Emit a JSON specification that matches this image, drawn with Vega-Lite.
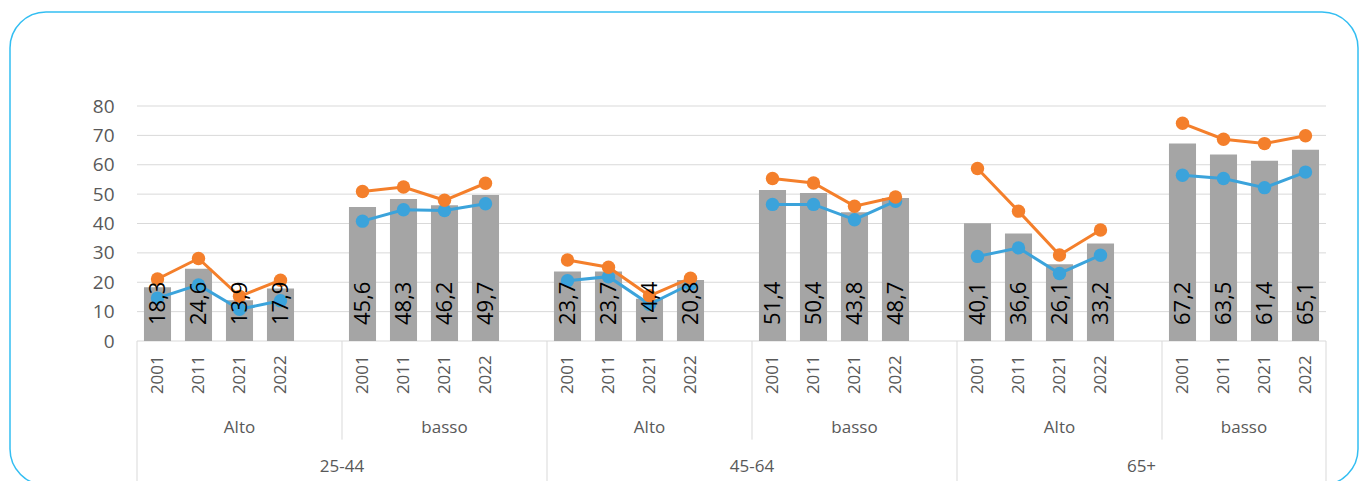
{
  "$schema": "https://vega.github.io/schema/vega-lite/v6.json",
  "autosize": {"type": "none"},
  "width": 1348,
  "height": 473,
  "padding": {"left": 10, "top": 12, "right": 2, "bottom": 0},
  "background": "white",
  "config": {"view": {"stroke": "#33BEF2", "strokeWidth": 1.5, "cornerRadius": 36}, "font": "Open Sans"},
  "datasets": {
    "main": [
      {"age": "25-44", "sub": "Alto", "grp": "25-44|Alto", "year": "2001", "slot": "25-44|Alto|2001", "bar": 18.3, "orange": 21.1, "blue": 14.6, "lab": "18,3"},
      {"age": "25-44", "sub": "Alto", "grp": "25-44|Alto", "year": "2011", "slot": "25-44|Alto|2011", "bar": 24.6, "orange": 28.1, "blue": 19.1, "lab": "24,6"},
      {"age": "25-44", "sub": "Alto", "grp": "25-44|Alto", "year": "2021", "slot": "25-44|Alto|2021", "bar": 13.9, "orange": 15.2, "blue": 10.8, "lab": "13,9"},
      {"age": "25-44", "sub": "Alto", "grp": "25-44|Alto", "year": "2022", "slot": "25-44|Alto|2022", "bar": 17.9, "orange": 20.7, "blue": 13.7, "lab": "17,9"},
      {"age": "25-44", "sub": "basso", "grp": "25-44|basso", "year": "2001", "slot": "25-44|basso|2001", "bar": 45.6, "orange": 50.9, "blue": 40.8, "lab": "45,6"},
      {"age": "25-44", "sub": "basso", "grp": "25-44|basso", "year": "2011", "slot": "25-44|basso|2011", "bar": 48.3, "orange": 52.4, "blue": 44.7, "lab": "48,3"},
      {"age": "25-44", "sub": "basso", "grp": "25-44|basso", "year": "2021", "slot": "25-44|basso|2021", "bar": 46.2, "orange": 47.9, "blue": 44.4, "lab": "46,2"},
      {"age": "25-44", "sub": "basso", "grp": "25-44|basso", "year": "2022", "slot": "25-44|basso|2022", "bar": 49.7, "orange": 53.7, "blue": 46.7, "lab": "49,7"},
      {"age": "45-64", "sub": "Alto", "grp": "45-64|Alto", "year": "2001", "slot": "45-64|Alto|2001", "bar": 23.7, "orange": 27.6, "blue": 20.5, "lab": "23,7"},
      {"age": "45-64", "sub": "Alto", "grp": "45-64|Alto", "year": "2011", "slot": "45-64|Alto|2011", "bar": 23.7, "orange": 25.1, "blue": 21.9, "lab": "23,7"},
      {"age": "45-64", "sub": "Alto", "grp": "45-64|Alto", "year": "2021", "slot": "45-64|Alto|2021", "bar": 14.4, "orange": 15.4, "blue": 12.5, "lab": "14,4"},
      {"age": "45-64", "sub": "Alto", "grp": "45-64|Alto", "year": "2022", "slot": "45-64|Alto|2022", "bar": 20.8, "orange": 21.4, "blue": 19.4, "lab": "20,8"},
      {"age": "45-64", "sub": "basso", "grp": "45-64|basso", "year": "2001", "slot": "45-64|basso|2001", "bar": 51.4, "orange": 55.3, "blue": 46.5, "lab": "51,4"},
      {"age": "45-64", "sub": "basso", "grp": "45-64|basso", "year": "2011", "slot": "45-64|basso|2011", "bar": 50.4, "orange": 53.8, "blue": 46.5, "lab": "50,4"},
      {"age": "45-64", "sub": "basso", "grp": "45-64|basso", "year": "2021", "slot": "45-64|basso|2021", "bar": 43.8, "orange": 45.9, "blue": 41.3, "lab": "43,8"},
      {"age": "45-64", "sub": "basso", "grp": "45-64|basso", "year": "2022", "slot": "45-64|basso|2022", "bar": 48.7, "orange": 49.0, "blue": 47.6, "lab": "48,7"},
      {"age": "65+", "sub": "Alto", "grp": "65+|Alto", "year": "2001", "slot": "65+|Alto|2001", "bar": 40.1, "orange": 58.7, "blue": 28.8, "lab": "40,1"},
      {"age": "65+", "sub": "Alto", "grp": "65+|Alto", "year": "2011", "slot": "65+|Alto|2011", "bar": 36.6, "orange": 44.2, "blue": 31.7, "lab": "36,6"},
      {"age": "65+", "sub": "Alto", "grp": "65+|Alto", "year": "2021", "slot": "65+|Alto|2021", "bar": 26.1, "orange": 29.3, "blue": 23.0, "lab": "26,1"},
      {"age": "65+", "sub": "Alto", "grp": "65+|Alto", "year": "2022", "slot": "65+|Alto|2022", "bar": 33.2, "orange": 37.8, "blue": 29.2, "lab": "33,2"},
      {"age": "65+", "sub": "basso", "grp": "65+|basso", "year": "2001", "slot": "65+|basso|2001", "bar": 67.2, "orange": 74.1, "blue": 56.4, "lab": "67,2"},
      {"age": "65+", "sub": "basso", "grp": "65+|basso", "year": "2011", "slot": "65+|basso|2011", "bar": 63.5, "orange": 68.7, "blue": 55.3, "lab": "63,5"},
      {"age": "65+", "sub": "basso", "grp": "65+|basso", "year": "2021", "slot": "65+|basso|2021", "bar": 61.4, "orange": 67.2, "blue": 52.2, "lab": "61,4"},
      {"age": "65+", "sub": "basso", "grp": "65+|basso", "year": "2022", "slot": "65+|basso|2022", "bar": 65.1, "orange": 69.9, "blue": 57.5, "lab": "65,1"}
    ],
    "grid": [{"v": 0}, {"v": 10}, {"v": 20}, {"v": 30}, {"v": 40}, {"v": 50}, {"v": 60}, {"v": 70}, {"v": 80}],
    "labels": [
      {"slot": "25-44|Alto|2021", "text": "Alto", "level": "sub", "pos": "mid"},
      {"slot": "25-44|basso|2021", "text": "basso", "level": "sub", "pos": "mid"},
      {"slot": "45-64|Alto|2021", "text": "Alto", "level": "sub", "pos": "mid"},
      {"slot": "45-64|basso|2021", "text": "basso", "level": "sub", "pos": "mid"},
      {"slot": "65+|Alto|2021", "text": "Alto", "level": "sub", "pos": "mid"},
      {"slot": "65+|basso|2011", "text": "basso", "level": "sub", "pos": "end"},
      {"slot": "b1", "text": "25-44", "level": "age", "pos": "end"},
      {"slot": "b3", "text": "45-64", "level": "age", "pos": "end"},
      {"slot": "b5", "text": "65+", "level": "age", "pos": "mid"}
    ],
    "seps": [
      {"slot": "25-44|Alto|2001", "kind": "age", "pos": "start"},
      {"slot": "45-64|Alto|2001", "kind": "age", "pos": "start"},
      {"slot": "65+|Alto|2001", "kind": "age", "pos": "start"},
      {"slot": "65+|basso|2022", "kind": "age", "pos": "end"},
      {"slot": "25-44|basso|2001", "kind": "sub", "pos": "start"},
      {"slot": "45-64|basso|2001", "kind": "sub", "pos": "start"},
      {"slot": "65+|basso|2001", "kind": "sub", "pos": "start"}
    ]
  },
  "encoding": {
    "x": {
      "field": "slot",
      "type": "nominal",
      "scale": {
        "type": "band",
        "paddingInner": 0,
        "paddingOuter": 0,
        "range": [127, 1316],
        "domain": ["25-44|Alto|2001", "25-44|Alto|2011", "25-44|Alto|2021", "25-44|Alto|2022", "b1",
                   "25-44|basso|2001", "25-44|basso|2011", "25-44|basso|2021", "25-44|basso|2022", "b2",
                   "45-64|Alto|2001", "45-64|Alto|2011", "45-64|Alto|2021", "45-64|Alto|2022", "b3",
                   "45-64|basso|2001", "45-64|basso|2011", "45-64|basso|2021", "45-64|basso|2022", "b4",
                   "65+|Alto|2001", "65+|Alto|2011", "65+|Alto|2021", "65+|Alto|2022", "b5",
                   "65+|basso|2001", "65+|basso|2011", "65+|basso|2021", "65+|basso|2022"]
      },
      "axis": null
    }
  },
  "layer": [
    {
      "layer": [
        {
          "data": {"name": "grid"},
          "mark": {"type": "rule", "color": "#D9D9D9", "strokeWidth": 1},
          "encoding": {
            "x": {"datum": "25-44|Alto|2001", "type": "nominal", "bandPosition": 0},
            "x2": {"datum": "65+|basso|2022", "bandPosition": 1},
            "y": {
              "field": "v",
              "type": "quantitative",
              "scale": {"domain": [0, 80], "range": [329, 94], "nice": false, "zero": true},
              "axis": {
                "title": null,
                "values": [0, 10, 20, 30, 40, 50, 60, 70, 80],
                "labelOverlap": false,
                "grid": false,
                "domain": false,
                "ticks": false,
                "offset": -127,
                "labelFont": "Open Sans",
                "labelFontSize": 19,
                "labelColor": "#595959",
                "labelPadding": 23
              }
            }
          }
        },
        {
          "data": {"name": "main"},
          "mark": {"type": "bar", "color": "#A5A5A5", "width": {"band": 0.66}},
          "encoding": {
            "y": {"field": "bar", "type": "quantitative"}
          }
        },
        {
          "data": {"name": "main"},
          "mark": {"type": "line", "color": "#3BA3DB", "strokeWidth": 3},
          "encoding": {
            "y": {"field": "blue", "type": "quantitative"},
            "detail": {"field": "grp", "type": "nominal"}
          }
        },
        {
          "data": {"name": "main"},
          "mark": {"type": "point", "filled": true, "opacity": 1, "size": 180, "color": "#3BA3DB"},
          "encoding": {
            "y": {"field": "blue", "type": "quantitative"}
          }
        },
        {
          "data": {"name": "main"},
          "mark": {"type": "line", "color": "#F47F2B", "strokeWidth": 3},
          "encoding": {
            "y": {"field": "orange", "type": "quantitative"},
            "detail": {"field": "grp", "type": "nominal"}
          }
        },
        {
          "data": {"name": "main"},
          "mark": {"type": "point", "filled": true, "opacity": 1, "size": 180, "color": "#F47F2B"},
          "encoding": {
            "y": {"field": "orange", "type": "quantitative"}
          }
        },
        {
          "data": {"name": "main"},
          "mark": {"type": "text", "angle": 270, "align": "left", "baseline": "middle", "dx": 16, "font": "Open Sans", "fontSize": 22, "color": "#000000"},
          "encoding": {
            "y": {"datum": 0, "type": "quantitative"},
            "text": {"field": "lab", "type": "nominal"}
          }
        }
      ]
    },
    {
      "layer": [
        {
          "data": {"name": "seps"},
          "transform": [{"filter": "datum.kind == 'age' && datum.pos == 'start'"}],
          "mark": {"type": "rule", "color": "#D9D9D9", "strokeWidth": 1},
          "encoding": {
            "x": {"field": "slot", "type": "nominal", "bandPosition": 0},
            "y": {"datum": "year", "type": "nominal", "bandPosition": 0, "scale": {"type": "band", "domain": ["year", "sub", "age"], "range": [329, 477], "paddingInner": 0, "paddingOuter": 0}, "axis": null},
            "y2": {"datum": "age", "bandPosition": 1}
          }
        },
        {
          "data": {"name": "seps"},
          "transform": [{"filter": "datum.kind == 'age' && datum.pos == 'end'"}],
          "mark": {"type": "rule", "color": "#D9D9D9", "strokeWidth": 1},
          "encoding": {
            "x": {"field": "slot", "type": "nominal", "bandPosition": 1},
            "y": {"datum": "year", "type": "nominal", "bandPosition": 0},
            "y2": {"datum": "age", "bandPosition": 1}
          }
        },
        {
          "data": {"name": "seps"},
          "transform": [{"filter": "datum.kind == 'sub'"}],
          "mark": {"type": "rule", "color": "#D9D9D9", "strokeWidth": 1},
          "encoding": {
            "x": {"field": "slot", "type": "nominal", "bandPosition": 0},
            "y": {"datum": "year", "type": "nominal", "bandPosition": 0},
            "y2": {"datum": "age", "bandPosition": 0}
          }
        },
        {
          "data": {"name": "main"},
          "mark": {"type": "text", "angle": 270, "align": "center", "baseline": "middle", "dx": -9, "font": "Open Sans", "fontSize": 17, "color": "#595959"},
          "encoding": {
            "y": {"datum": "year", "type": "nominal"},
            "text": {"field": "year", "type": "nominal"}
          }
        },
        {
          "data": {"name": "labels"},
          "transform": [{"filter": "datum.level == 'sub' && datum.pos == 'mid'"}],
          "mark": {"type": "text", "align": "center", "baseline": "middle", "dy": 13, "font": "Open Sans", "fontSize": 17, "color": "#595959"},
          "encoding": {
            "x": {"field": "slot", "type": "nominal", "bandPosition": 0.5},
            "y": {"field": "level", "type": "nominal"},
            "text": {"field": "text", "type": "nominal"}
          }
        },
        {
          "data": {"name": "labels"},
          "transform": [{"filter": "datum.level == 'sub' && datum.pos == 'end'"}],
          "mark": {"type": "text", "align": "center", "baseline": "middle", "dy": 13, "font": "Open Sans", "fontSize": 17, "color": "#595959"},
          "encoding": {
            "x": {"field": "slot", "type": "nominal", "bandPosition": 1},
            "y": {"field": "level", "type": "nominal"},
            "text": {"field": "text", "type": "nominal"}
          }
        },
        {
          "data": {"name": "labels"},
          "transform": [{"filter": "datum.level == 'age' && datum.pos == 'mid'"}],
          "mark": {"type": "text", "align": "center", "baseline": "middle", "dy": 3, "font": "Open Sans", "fontSize": 17, "color": "#595959"},
          "encoding": {
            "x": {"field": "slot", "type": "nominal", "bandPosition": 0.5},
            "y": {"field": "level", "type": "nominal"},
            "text": {"field": "text", "type": "nominal"}
          }
        },
        {
          "data": {"name": "labels"},
          "transform": [{"filter": "datum.level == 'age' && datum.pos == 'end'"}],
          "mark": {"type": "text", "align": "center", "baseline": "middle", "dy": 3, "font": "Open Sans", "fontSize": 17, "color": "#595959"},
          "encoding": {
            "x": {"field": "slot", "type": "nominal", "bandPosition": 1},
            "y": {"field": "level", "type": "nominal"},
            "text": {"field": "text", "type": "nominal"}
          }
        }
      ]
    }
  ],
  "resolve": {"scale": {"y": "independent"}, "axis": {"y": "independent"}}
}
